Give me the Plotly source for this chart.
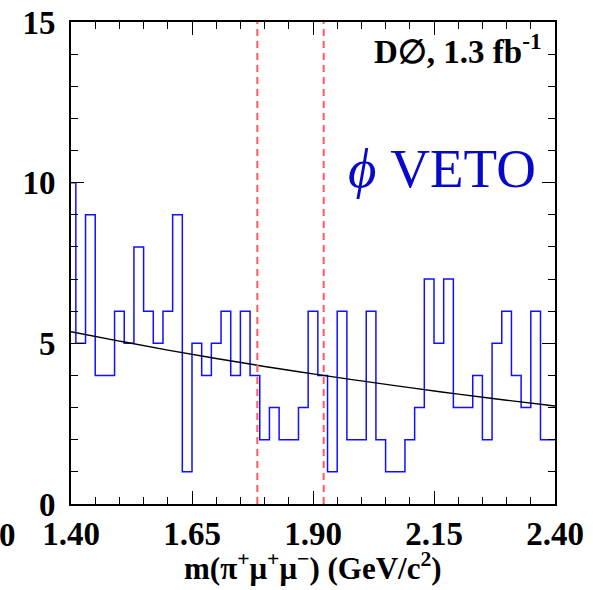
import plotly.graph_objects as go

# Candidate counts per 0.02 GeV/c^2 bin, bins centred on the listed masses
mass_centers = [1.40, 1.42, 1.44, 1.46, 1.48, 1.50, 1.52, 1.54, 1.56, 1.58,
                1.60, 1.62, 1.64, 1.66, 1.68, 1.70, 1.72, 1.74, 1.76, 1.78,
                1.80, 1.82, 1.84, 1.86, 1.88, 1.90, 1.92, 1.94, 1.96, 1.98,
                2.00, 2.02, 2.04, 2.06, 2.08, 2.10, 2.12, 2.14, 2.16, 2.18,
                2.20, 2.22, 2.24, 2.26, 2.28, 2.30, 2.32, 2.34, 2.36, 2.38,
                2.40]
counts = [10, 5, 9, 4, 4, 6, 5, 8, 6, 5,
          6, 9, 1, 5, 4, 5, 6, 4, 6, 4,
          2, 3, 2, 2, 3, 6, 4, 1, 6, 2,
          2, 6, 2, 1, 1, 2, 3, 7, 5, 7,
          3, 3, 4, 2, 5, 6, 4, 3, 6, 2,
          2]

# Background fit curve
fit_mass = [1.40, 1.50, 1.60, 1.70, 1.80, 1.90, 2.00, 2.10, 2.20, 2.30, 2.40]
fit_counts = [5.36, 5.07, 4.79, 4.53, 4.28, 4.05, 3.83, 3.62, 3.42, 3.23, 3.05]

# Signal window boundaries
window_edges = [1.785, 1.922]

x_ticks = [1.40, 1.65, 1.90, 2.15, 2.40]
x_tick_text = ["1.40", "1.65", "1.90", "2.15", "2.40"]
y_ticks = [0, 5, 10, 15]

SERIF = "Liberation Serif"
LABEL_SIZE = 33

fig = go.Figure()

fig.add_trace(go.Scatter(
    x=mass_centers, y=counts, mode="lines",
    line=dict(color="#1010ff", width=1.5, shape="hvh"),
    showlegend=False, hoverinfo="skip",
))

fig.add_trace(go.Scatter(
    x=fit_mass, y=fit_counts, mode="lines",
    line=dict(color="black", width=1.4, shape="spline"),
    showlegend=False, hoverinfo="skip",
))

for edge in window_edges:
    fig.add_shape(type="line", xref="x", yref="y",
                  x0=edge, x1=edge, y0=0, y1=15,
                  line=dict(color="#ff5a5a", width=2, dash="7px,5px"))

fig.add_annotation(
    text="D∅, 1.3 fb<sup>-1</sup>", xref="paper", yref="paper",
    x=0.975, y=0.945, xanchor="right", yanchor="middle", showarrow=False,
    font=dict(family=SERIF, size=33, color="black", weight="bold"),
)

fig.add_annotation(
    text="<i>ϕ</i> VETO", xref="paper", yref="paper",
    x=0.568, y=0.697, xanchor="left", yanchor="middle", showarrow=False,
    font=dict(family=SERIF, size=55, color="#0808c8"),
)

# x-axis title
fig.add_annotation(
    text="m(π<sup>+</sup>μ<sup>+</sup>μ<sup>−</sup>) (GeV/c<sup>2</sup>)",
    xref="paper", yref="paper", x=0.5, y=0, xanchor="center", yanchor="bottom",
    yshift=-84, showarrow=False,
    font=dict(family=SERIF, size=31, color="black", weight="bold"),
)

fig.add_annotation(
    text="0", xref="paper", yref="paper",
    x=0, y=0, xanchor="right", yanchor="middle", showarrow=False,
    xshift=-53, yshift=-31,
    font=dict(family=SERIF, size=LABEL_SIZE, color="black", weight="bold"),
)

axis_common = dict(
    showline=True, linecolor="black", linewidth=1.6, mirror="ticks",
    ticks="inside", ticklen=13, tickwidth=1.3, tickcolor="black",
    showgrid=False, zeroline=False, automargin=False,
    tickfont=dict(family=SERIF, size=LABEL_SIZE, color="black", weight="bold"),
)

fig.update_xaxes(
    range=[1.40, 2.40], tickmode="array", tickvals=x_ticks, ticktext=x_tick_text,
    minor=dict(dtick=0.05, tick0=1.40, ticks="inside", ticklen=7,
               tickwidth=1.2, tickcolor="black"),
    ticklabelstandoff=0,
    **axis_common,
)

fig.update_yaxes(
    range=[0, 15], tickmode="array", tickvals=y_ticks,
    minor=dict(dtick=1, tick0=0, ticks="inside", ticklen=7,
               tickwidth=1.2, tickcolor="black"),
    ticklabelstandoff=7,
    **axis_common,
)

fig.update_layout(
    width=593, height=590,
    margin=dict(l=71, r=38, t=22, b=86),
    paper_bgcolor="white", plot_bgcolor="white",
    showlegend=False,
)

fig.write_html("out.html")
